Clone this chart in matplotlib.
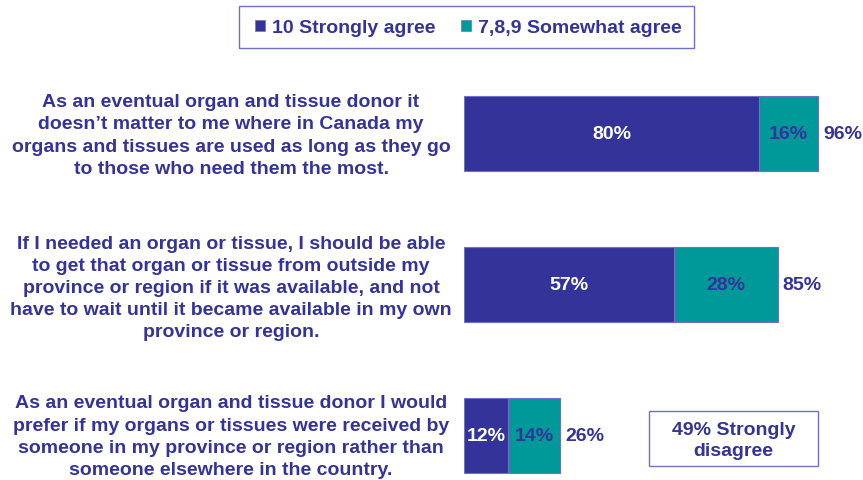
import matplotlib
matplotlib.use("Agg")
import matplotlib.pyplot as plt
from matplotlib.patches import Patch, Rectangle
from matplotlib.transforms import blended_transform_factory

plt.rcParams['font.family'] = ['Liberation Sans', 'DejaVu Sans']

statements = [
    "As an eventual organ and tissue donor it\ndoesn\u2019t matter to me where in Canada my\norgans and tissues are used as long as they go\nto those who need them the most.",
    "If I needed an organ or tissue, I should be able\nto get that organ or tissue from outside my\nprovince or region if it was available, and not\nhave to wait until it became available in my own\nprovince or region.",
    "As an eventual organ and tissue donor I would\nprefer if my organs or tissues were received by\nsomeone in my province or region rather than\nsomeone elsewhere in the country.",
]
strongly = [80, 57, 12]
somewhat = [16, 28, 14]
totals = [96, 85, 26]
series_names = ["10 Strongly agree", "7,8,9 Somewhat agree"]
note_text = "49% Strongly\ndisagree"

DARK = "#333399"
TEAL = "#009999"
EDGE = "#7070c8"

W, H = 863, 481
fig = plt.figure(figsize=(W / 100, H / 100), dpi=100)

# axes placement in pixels
x0_px = 464
px_per_unit = 3.69
ax = fig.add_axes([x0_px / W, 0, 100 * px_per_unit / W, (481 - 59) / H])
ax.set_xlim(0, 100)
ax.set_ylim(2 + (481 - 436.5) / 151, -0.5)
ax.axis("off")

ypos = list(range(len(strongly)))
bh = 75 / 151
ax.barh(ypos, strongly, height=bh, color=DARK, edgecolor=EDGE, linewidth=0.8)
ax.barh(ypos, somewhat, left=strongly, height=bh, color=TEAL, edgecolor=EDGE, linewidth=0.8)

fs = 14
for y, a, b, t in zip(ypos, strongly, somewhat, totals):
    ax.text(a / 2, y, f"{a}%", ha="center", va="center", color="white",
            fontsize=fs, fontweight="bold")
    ax.text(a + b / 2, y, f"{b}%", ha="center", va="center", color=DARK,
            fontsize=fs, fontweight="bold")
    ax.text(t + 1.4, y, f"{t}%", ha="left", va="center", color=DARK,
            fontsize=fs, fontweight="bold")

trans = blended_transform_factory(fig.transFigure, ax.transData)
offsets = [0.01, 0.02, 0.005]
for y, s, off in zip(ypos, statements, offsets):
    ax.text(231 / W, y + off, s, transform=trans, ha="center", va="center",
            multialignment="center", color=DARK, fontsize=fs,
            fontweight="bold", linespacing=1.4)

# note box
fig.patches.append(Rectangle((649 / W, 1 - 467 / H), (818 - 649) / W, (467 - 412) / H,
                             transform=fig.transFigure, facecolor="white",
                             edgecolor=EDGE, linewidth=1.0))
fig.text(733.5 / W, 1 - 441 / H, note_text, ha="center", va="center",
         color=DARK, fontsize=fs, fontweight="bold", linespacing=1.35)

# legend
fig.patches.append(Rectangle((239 / W, 1 - 49 / H), (694 - 239) / W, (49 - 7) / H,
                             transform=fig.transFigure, facecolor="white",
                             edgecolor=EDGE, linewidth=1.0))
handles = [Patch(facecolor=DARK, edgecolor=EDGE, linewidth=0.5),
           Patch(facecolor=TEAL, edgecolor=EDGE, linewidth=0.5)]
leg = fig.legend(handles, series_names, loc="center", ncol=2,
                 bbox_to_anchor=(468 / W, 1 - 29 / H), frameon=False,
                 handlelength=0.52, handleheight=0.52, handletextpad=0.36,
                 columnspacing=1.3, prop={"size": 14, "weight": "bold"})
for t in leg.get_texts():
    t.set_color(DARK)

fig.savefig("out.png", dpi=100)
